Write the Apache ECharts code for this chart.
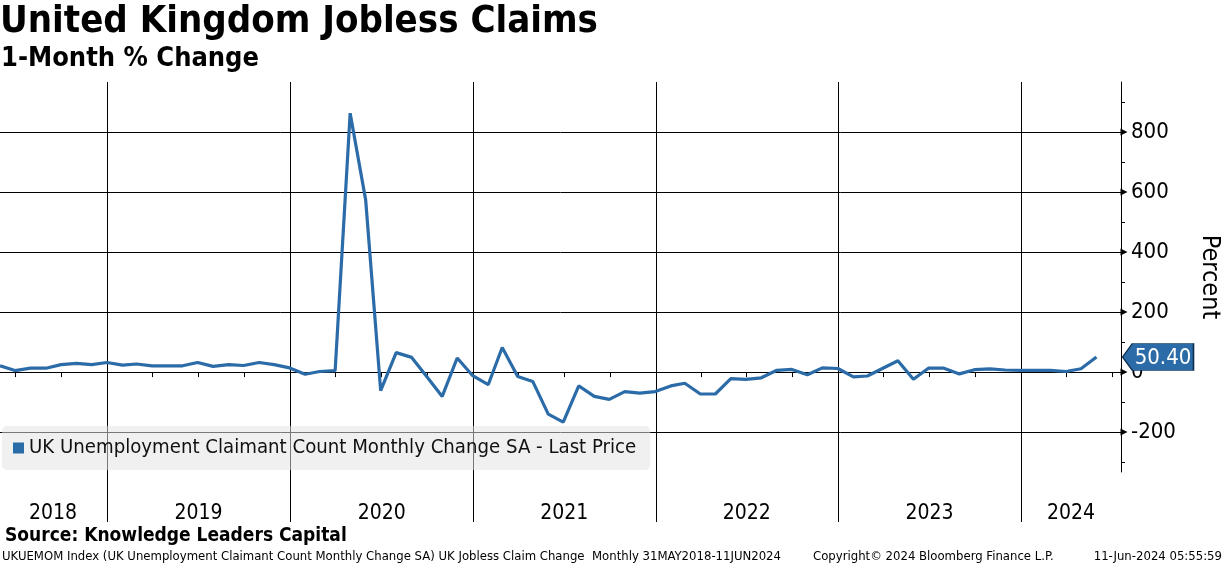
<!DOCTYPE html>
<html><head><meta charset="utf-8">
<script src="https://cdn.jsdelivr.net/npm/echarts@6/dist/echarts.min.js"></script>
<style>html,body{margin:0;padding:0;background:#fff}#c{width:1224px;height:566px}</style>
</head><body><div id="c"></div>
<script>
// ---- data ----
const seriesName = 'UK Unemployment Claimant Count Monthly Change SA - Last Price';
const startYear = 2018, startMonth = 5; // May 2018 (month-end observations)
const values = [21, 5, 13, 13, 25, 29, 25, 32, 23, 27, 21, 21, 21, 32, 19, 25, 22, 32, 25, 14,
  -7, 2, 5, 863, 574, -62, 65, 49, -15, -81, 47, -12, -42, 82, -15, -31, -140, -167, -46, -81,
  -91, -65, -70, -65, -46, -37, -73, -73, -22, -24, -19, 6, 9, -9, 14, 12, -16, -13, 13, 38,
  -24, 13, 13, -6, 8, 11, 7, 6, 6, 6, 2, 11, 50.4];
const yTickLabels = [-200, 0, 200, 400, 600, 800];
const yMinorTicks = [-300, -200, -100, 0, 100, 200, 300, 400, 500, 600, 700, 800, 900];
const yearBounds = ['2019-01-01', '2020-01-01', '2021-01-01', '2022-01-01', '2023-01-01', '2024-01-01'];
const yearLabelPos = ['2018-09-14', '2019-07-02', '2020-07-02', '2021-07-02', '2022-07-02', '2023-07-02', '2024-04-10'];
const xMin = '2018-05-31', xMax = '2024-07-19';
const yMin = -333, yMax = 967;

function pad(n) { return n < 10 ? '0' + n : '' + n; }
function ts(s) { const p = s.split('-'); return Date.UTC(+p[0], +p[1] - 1, +p[2]); }
// month-end dates for each observation
const dates = values.map(function (v, i) {
  const m0 = startMonth - 1 + i;
  const y = startYear + Math.floor(m0 / 12);
  const m = m0 % 12 + 1;
  const last = new Date(Date.UTC(y, m, 0)).getUTCDate();
  return y + '-' + pad(m) + '-' + pad(last);
});
const quarterTicks = [];
for (let y = 2018; y <= 2024; y++) ['01', '04', '07', '10'].forEach(function (m) {
  const t = ts(y + '-' + m + '-01'); if (t >= ts(xMin) && t <= ts(xMax)) quarterTicks.push(t);
});

const FONT = "'DejaVu Sans Condensed', 'Liberation Sans', sans-serif";
const NARROW = "'Liberation Sans Narrow', 'DejaVu Sans Condensed', sans-serif";
const BLUE = '#2b6ba8';
const lastVal = values[values.length - 1];

const gridLines = yTickLabels.map(function (v) { return { yAxis: v }; })
  .concat(yearBounds.map(function (d) { return { xAxis: ts(d) }; }));

const arrowMarks = yTickLabels.map(function (v) {
  return { coord: [ts(xMax), v], symbol: 'triangle', symbolRotate: -90, symbolSize: [7, 7], symbolOffset: [3, 0],
    itemStyle: { color: '#000' }, label: { show: false } };
});
arrowMarks.push({
  coord: [ts(xMax), lastVal], value: lastVal,
  symbol: 'path://M0,13 L10,0 L72,0 L72,26 L10,26 Z', symbolKeepAspect: false,
  symbolSize: [71, 27], symbolOffset: [37, 0],
  itemStyle: { color: BLUE, borderColor: '#0d2d4d', borderWidth: 1 },
  label: { show: true, position: 'inside', offset: [5, 1], color: '#fff', fontFamily: FONT, fontSize: 22,
    formatter: function (p) { return Number(p.value).toFixed(2); } }
});

const chart = echarts.init(document.getElementById('c'));
chart.setOption({
  animation: false,
  backgroundColor: '#fff',
  title: [
    { text: 'United Kingdom Jobless Claims', left: 0, top: 3, padding: 0,
      textStyle: { fontFamily: FONT, fontSize: 38, fontWeight: 'bold', color: '#000' } },
    { text: '1-Month % Change', left: 1, top: 45, padding: 0,
      textStyle: { fontFamily: FONT, fontSize: 27, fontWeight: 'bold', color: '#000' } },
    { text: 'Source: Knowledge Leaders Capital', left: 5, top: 527, padding: 0,
      textStyle: { fontFamily: FONT, fontSize: 19, fontWeight: 'bold', color: '#000' } },
    { text: 'UKUEMOM Index (UK Unemployment Claimant Count Monthly Change SA) UK Jobless Claim Change  Monthly 31MAY2018-11JUN2024', left: 2, top: 550, padding: 0,
      textStyle: { fontFamily: NARROW, fontSize: 13, fontWeight: 'normal', color: '#000' } },
    { text: 'Copyright\u00a9 2024 Bloomberg Finance L.P.', left: 813, top: 550, padding: 0,
      textStyle: { fontFamily: NARROW, fontSize: 13, fontWeight: 'normal', color: '#000' } },
    { text: '11-Jun-2024 05:55:59', right: 2, top: 550, padding: 0,
      textStyle: { fontFamily: NARROW, fontSize: 13, fontWeight: 'normal', color: '#000' } }
  ],
  legend: {
    data: [seriesName], left: 2, top: 426, padding: [12, 14, 12, 11],
    backgroundColor: 'rgba(227,227,227,0.53)', borderRadius: 5,
    icon: 'rect', itemWidth: 11, itemHeight: 11, itemGap: 4,
    textStyle: { fontFamily: FONT, fontSize: 20.2, color: '#111' }
  },
  grid: { left: 0, right: 103, top: 82, bottom: 94, containLabel: false, outerBoundsMode: 'none' },
  xAxis: [
    { type: 'value', min: ts(xMin), max: ts(xMax), gridIndex: 0, scale: true,
      axisLine: { show: true, lineStyle: { color: '#000', width: 1 } },
      axisTick: { show: true, customValues: quarterTicks, length: 5, lineStyle: { color: '#000' } },
      axisLabel: { show: true, customValues: yearLabelPos.map(ts), margin: 31, fontFamily: FONT, fontSize: 21, color: '#000',
        hideOverlap: false,
        formatter: function (v) { return String(new Date(v).getUTCFullYear()); } },
      splitLine: { show: false } },
    { type: 'value', min: ts(xMin), max: ts(xMax), gridIndex: 0, position: 'bottom', scale: true,
      axisLine: { show: false },
      axisTick: { show: true, customValues: yearBounds.map(ts), length: 50, lineStyle: { color: '#000', width: 1 } },
      axisLabel: { show: false }, splitLine: { show: false } }
  ],
  yAxis: {
    type: 'value', position: 'right', min: yMin, max: yMax,
    axisLine: { show: true, lineStyle: { color: '#000', width: 1 } },
    axisTick: { show: true, customValues: yMinorTicks, length: 4, lineStyle: { color: '#000' } },
    axisLabel: { customValues: yTickLabels, margin: 10, fontFamily: FONT, fontSize: 22, color: '#000' },
    splitLine: { show: false },
    name: 'Percent', nameLocation: 'middle', nameRotate: -90, nameGap: 76,
    nameTextStyle: { fontFamily: FONT, fontSize: 25, color: '#000' }
  },
  series: [
    { name: '_grid', type: 'line', data: [], z: 1, silent: true,
      markLine: { silent: true, symbol: 'none', z: 1, animation: false,
        lineStyle: { color: '#000', width: 1, type: 'solid' }, label: { show: false },
        data: gridLines } },
    { name: seriesName, type: 'line', xAxisIndex: 0, z: 10, clip: false,
      data: dates.map(function (d, i) { return [ts(d), values[i]]; }),
      showSymbol: false, symbol: 'none',
      lineStyle: { color: BLUE, width: 3.2 }, itemStyle: { color: BLUE },
      markPoint: { silent: true, z: 20, data: arrowMarks, animation: false } }
  ]
});
</script></body></html>
